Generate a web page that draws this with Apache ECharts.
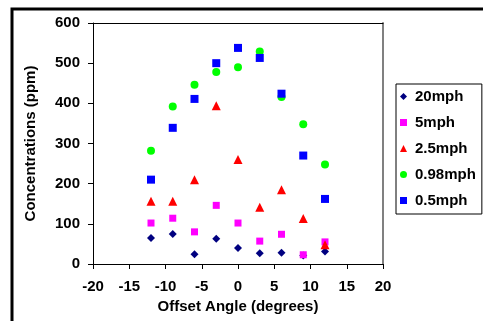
<!DOCTYPE html>
<html>
<head>
<meta charset="utf-8">
<script src="https://cdn.jsdelivr.net/npm/echarts@6/dist/echarts.min.js"></script>
<style>
  html, body { margin: 0; padding: 0; background: #fff; }
  #chart { width: 483px; height: 321px; }
</style>
</head>
<body>
<div id="chart"></div>
<script>
// Offset angles (degrees) at which concentrations were sampled
const angles = [-12, -9, -6, -3, 0, 3, 6, 9, 12];

// Concentrations (ppm) per wind speed
const mph20  = [65, 75, 24, 63, 40, 27, 28, 21, 31];
const mph5   = [102, 114, 80, 146, 102, 57, 74, 23, 55];
const mph2_5 = [156, 156, 210, 394, 260, 141, 185, 113, 48];
const mph098 = [282, 392, 446, 478, 490, 529, 416, 348, 248];
const mph05  = [210, 339, 411, 500, 538, 513, 424, 270, 162];

const seriesNames = ['20mph', '5mph', '2.5mph', '0.98mph', '0.5mph'];
const seriesValues = [mph20, mph5, mph2_5, mph098, mph05];
const seriesColors = ['#000080', '#FF00FF', '#FF0000', '#00FF00', '#0000FF'];
const seriesSymbols = ['diamond', 'rect', 'triangle', 'circle', 'rect'];
const seriesSizes = [8, 7, 9, 8, 8];

const font = 'Liberation Sans, Arial, sans-serif';

const chart = echarts.init(document.getElementById('chart'), null, { renderer: 'canvas' });

const series = seriesNames.map((name, i) => ({
  name: name,
  type: 'scatter',
  symbol: seriesSymbols[i],
  symbolSize: seriesSizes[i],
  itemStyle: { color: seriesColors[i], opacity: 1 },
  data: angles.map((a, j) => [a, seriesValues[i][j]]),
  z: 2 + i
}));

const plainAxis = {
  axisTick: { show: false }, axisLabel: { show: false }, splitLine: { show: false }
};

chart.setOption({
  animation: false,
  backgroundColor: '#fff',
  graphic: [
    {
      type: 'rect',
      shape: { x: 12, y: 9, width: 600, height: 400 },
      style: { fill: 'none', stroke: '#000', lineWidth: 3 },
      silent: true
    }
  ],
  grid: { left: 93, top: 23, width: 290, height: 241 },
  legend: {
    orient: 'vertical',
    left: 396, top: 84,
    data: seriesNames.map((n, i) => ({ name: n, icon: seriesSymbols[i] })),
    itemWidth: 7, itemHeight: 7,
    itemGap: 11,
    padding: [5, 6, 6, 4],
    borderColor: '#000', borderWidth: 1,
    backgroundColor: '#fff',
    textStyle: { fontFamily: font, fontWeight: 'bold', fontSize: 15, color: '#000', padding: [0, 0, 0, 3] }
  },
  xAxis: [
    {
      type: 'value', min: -20, max: 20, interval: 5,
      name: 'Offset Angle (degrees)', nameLocation: 'middle', nameGap: 35,
      nameTextStyle: { fontFamily: font, fontWeight: 'bold', fontSize: 15, color: '#000' },
      axisLine: { show: true, onZero: false, lineStyle: { color: '#000', width: 1 } },
      axisTick: { show: true, inside: false, length: 5, lineStyle: { color: '#000' } },
      axisLabel: { margin: 15, fontFamily: font, fontWeight: 'bold', fontSize: 15, color: '#000' },
      splitLine: { show: false }
    },
    Object.assign({
      type: 'value', min: -20, max: 20, position: 'top',
      axisLine: { show: true, onZero: false, lineStyle: { color: '#000', width: 1 } }
    }, plainAxis)
  ],
  yAxis: [
    {
      type: 'value', min: 0, max: 600, interval: 100,
      name: 'Concentrations (ppm)', nameLocation: 'middle', nameGap: 55,
      nameTextStyle: { fontFamily: font, fontWeight: 'bold', fontSize: 15, color: '#000' },
      axisLine: { show: true, onZero: false, lineStyle: { color: '#000', width: 1 } },
      axisTick: { show: true, inside: false, length: 5, lineStyle: { color: '#000' } },
      axisLabel: { margin: 13, fontFamily: font, fontWeight: 'bold', fontSize: 15, color: '#000' },
      splitLine: { show: false }
    },
    Object.assign({
      type: 'value', min: 0, max: 600, position: 'right',
      axisLine: { show: true, onZero: false, lineStyle: { color: '#808080', width: 2 } }
    }, plainAxis)
  ],
  series: series
});
</script>
</body>
</html>
